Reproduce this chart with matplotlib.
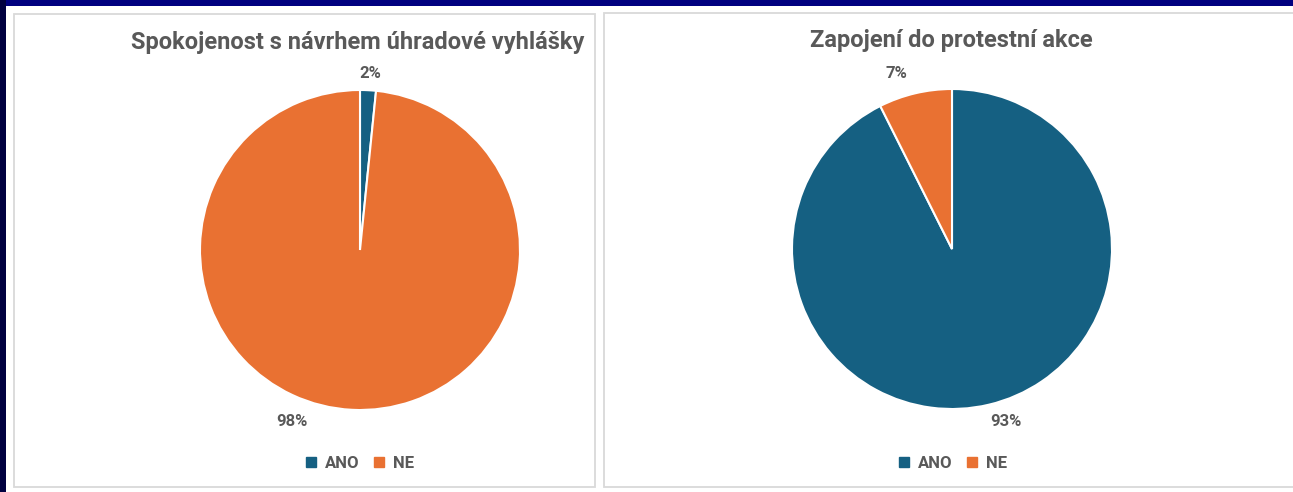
import matplotlib
matplotlib.use("Agg")
import matplotlib.pyplot as plt
from matplotlib.patches import Rectangle
from matplotlib.lines import Line2D
import numpy as np

# ---- data ----
categories = ["ANO", "NE"]
left_title = "Spokojenost s návrhem úhradové vyhlášky"
left_values = [1.6, 98.4]
left_labels = ["2%", "98%"]
right_title = "Zapojení do protestní akce"
right_values = [92.6, 7.4]
right_labels = ["93%", "7%"]

colors = ["#156082", "#E97132"]
text_grey = "#595959"
FONT = "Roboto"

W, H = 1293, 492
fig = plt.figure(figsize=(W / 100, H / 100), dpi=100)
fig.patch.set_facecolor("white")

def fx(px):
    return px / W

def fy(py):
    return 1 - py / H

# navy frame strips
fig.patches.append(Rectangle((0, fy(6)), 1, 6 / H, transform=fig.transFigure,
                             facecolor="#00007F", edgecolor="none", zorder=0))
fig.patches.append(Rectangle((0, 0), fx(6), 1, transform=fig.transFigure,
                             facecolor="#000040", edgecolor="none", zorder=0))

# panel borders
fig.patches.append(Rectangle((fx(13.5), fy(486.5)), fx(595 - 13.5), (486.5 - 13.5) / H,
                             transform=fig.transFigure, facecolor="white",
                             edgecolor="#D9D9D9", lw=1.3, zorder=1))
fig.patches.append(Rectangle((fx(603.5), fy(486.5)), fx(1300 - 603.5), (486.5 - 12.5) / H,
                             transform=fig.transFigure, facecolor="white",
                             edgecolor="#D9D9D9", lw=1.3, zorder=1))


def draw_pie(cx, cy, r, values, labels, label_pos, title, title_xy, legend_x):
    ax = fig.add_axes([fx(cx - r), fy(cy + r), 2 * r / W, 2 * r / H])
    ax.set_zorder(2)
    wedges, _ = ax.pie(values, colors=colors, startangle=90, counterclock=False,
                       radius=1.0, wedgeprops=dict(edgecolor="white", linewidth=1.5))
    ax.set_xlim(-1, 1)
    ax.set_ylim(-1, 1)
    ax.set_aspect("equal")
    ax.axis("off")
    for lab, (lx, ly) in zip(labels, label_pos):
        fig.text(fx(lx), fy(ly), lab, ha="center", va="center", fontsize=12,
                 fontweight="bold", color=text_grey, family=FONT, zorder=3)
    fig.text(fx(title_xy[0]), fy(title_xy[1]), title, ha="center", va="center",
             fontsize=17, fontweight="bold", color=text_grey, family=FONT, zorder=3)
    handles = [Line2D([], [], marker="s", linestyle="none", markersize=6.5,
                      markerfacecolor=c, markeredgecolor=c) for c in colors]
    fig.legend(handles, categories, loc="center", bbox_to_anchor=(fx(legend_x), fy(463)),
               ncol=2, frameon=False, handlelength=0.6, handletextpad=0.5,
               columnspacing=0.9, prop=dict(family=FONT, weight="bold", size=12),
               labelcolor=text_grey)


draw_pie(360, 250, 160, left_values, left_labels, [(370, 73), (292, 422)],
         left_title, (358, 43), 360)
draw_pie(952, 249, 160, right_values, right_labels, [(1006, 422), (896, 73)],
         right_title, (951, 40), 953)

fig.savefig("out.png", dpi=100, facecolor="white")
